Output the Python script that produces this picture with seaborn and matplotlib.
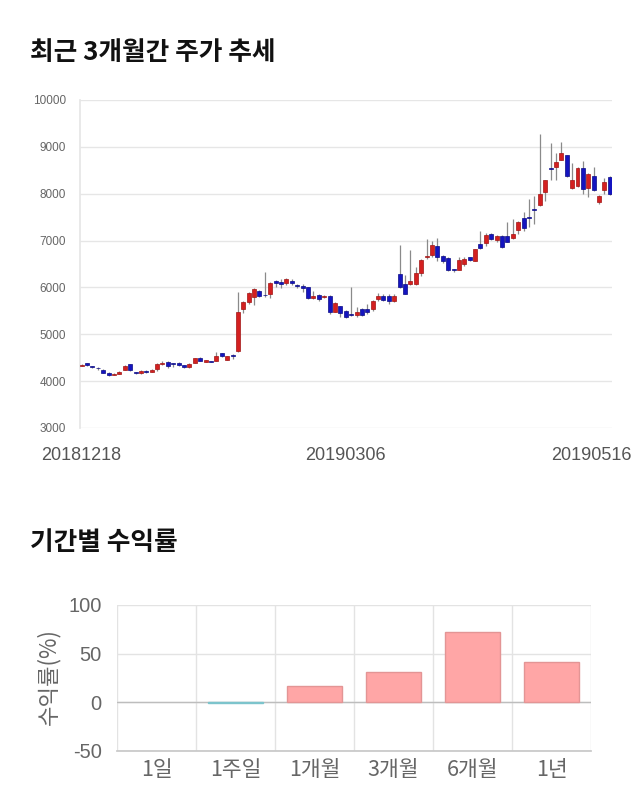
import numpy as np
import pandas as pd
import matplotlib
matplotlib.use("Agg")
import matplotlib.pyplot as plt
import matplotlib.transforms as mtransforms
import seaborn as sns

# ---- daily candles (20181218 .. 20190516) ----
opens = [4330, 4380, 4310, 4280, 4240, 4180, 4140, 4160, 4240, 4360,
         4180, 4170, 4210, 4200, 4250, 4370, 4410, 4370, 4390, 4340,
         4300, 4390, 4500, 4410, 4420, 4440, 4590, 4460, 4550,
         4650, 5550, 5690, 5790, 5930, 5840, 5860, 6130, 6110, 6090,
         6140, 6060, 6040, 6000, 5780, 5830, 5790, 5820, 5480, 5600,
         5500, 5430, 5420, 5530, 5530, 5530, 5750, 5820, 5820, 5720,
         6280,
         6080, 6070, 6080, 6300, 6640, 6690, 6880, 6670, 6620, 6390,
         6380, 6500, 6640, 6570, 6920, 6940, 7150, 7020, 7090, 7100,
         7060, 7220, 7490, 7510, 7670, 7750, 8040, 8550, 8560, 8730,
         8820, 8120, 8170, 8540, 8130, 8380, 7830, 8070, 8350]
highs = [4360, 4390, 4330, 4300, 4250, 4190, 4170, 4210, 4340, 4370,
         4190, 4230, 4240, 4250, 4380, 4420, 4430, 4380, 4400, 4350,
         4380, 4500, 4510, 4460, 4430, 4620, 4600, 4540, 4580,
         5910, 5700, 5900, 5990, 5950, 6330, 6120, 6150, 6170, 6200,
         6180, 6080, 6080, 6010, 5920, 5850, 5830, 5830, 5680, 5610,
         5510, 6010, 5580, 5560, 5640, 5730, 5890, 5850, 5850, 5850,
         6900,
         6260, 6790, 6440, 6600, 7040, 7000, 7060, 6700, 6640, 6400,
         6650, 6640, 6660, 6830, 7210, 7160, 7170, 7110, 7110, 7400,
         7450, 7420, 7620, 7880, 7950, 9280, 8300, 9085, 8870, 9100,
         8830, 8650, 8560, 8700, 8440, 8560, 7970, 8330, 8380]
lows = [4320, 4330, 4280, 4240, 4170, 4110, 4130, 4150, 4230, 4220,
        4160, 4160, 4170, 4190, 4220, 4350, 4290, 4310, 4330, 4290,
        4290, 4380, 4430, 4400, 4400, 4430, 4520, 4450, 4480,
        4630, 5460, 5650, 5630, 5800, 5800, 5780, 6000, 5990, 6060,
        6050, 5980, 5900, 5760, 5760, 5720, 5780, 5440, 5470, 5370,
        5350, 5400, 5360, 5380, 5440, 5500, 5720, 5700, 5650, 5680,
        5990,
        5850, 6050, 6060, 6250, 6600, 6660, 6560, 6520, 6340, 6330,
        6370, 6460, 6560, 6560, 6820, 6880, 7020, 6980, 6840, 6960,
        7040, 7130, 7200, 7300, 7360, 7740, 7850, 8300, 8290, 8720,
        8360, 8110, 8150, 7990, 7930, 8050, 7780, 8000, 7980]
closes = [4350, 4340, 4300, 4270, 4180, 4130, 4160, 4190, 4320, 4230,
          4170, 4210, 4200, 4230, 4360, 4380, 4320, 4360, 4340, 4300,
          4370, 4490, 4440, 4450, 4410, 4540, 4530, 4530, 4540,
          5480, 5690, 5890, 5960, 5820, 5830, 6100, 6090, 6070, 6180,
          6090, 6030, 5990, 5770, 5820, 5750, 5810, 5480, 5660, 5450,
          5370, 5420, 5480, 5420, 5470, 5720, 5820, 5740, 5710, 5820,
          6000,
          5870, 6130, 6300, 6580, 6670, 6900, 6640, 6570, 6380, 6380,
          6580, 6600, 6580, 6810, 6840, 7110, 7040, 7090, 6860, 6970,
          7150, 7400, 7260, 7490, 7660, 8000, 8290, 8530, 8680, 8860,
          8370, 8300, 8540, 8090, 8420, 8070, 7950, 8240, 7990]
date_ticks = [0, 49, 98]
date_labels = ["20181218", "20190306", "20190516"]
price_ticks = [3000, 4000, 5000, 6000, 7000, 8000, 9000, 10000]

# ---- period returns ----
periods = ["1일", "1주일", "1개월", "3개월", "6개월", "1년"]
returns = [0.0, -0.4, 16.4, 31.5, 72.0, 41.2]
return_ticks = [-50, 0, 50, 100]

sns.set_theme(style="white")
plt.rcParams['font.family'] = ['Liberation Sans', 'Noto Sans CJK KR']
KFONT = ['Noto Sans CJK KR', 'Liberation Sans']

fig = plt.figure(figsize=(6.4, 8.1), dpi=100)
W, H = 640.0, 810.0

def rect(l, t, r, b):
    return [l / W, 1 - b / H, (r - l) / W, (b - t) / H]

# ---------- top: candlestick chart ----------
ax1 = fig.add_axes(rect(80, 100, 612, 428))
o = np.array(opens, dtype=float)
c = np.array(closes, dtype=float)
idx = np.arange(len(o))
up = c >= o
body_col = np.where(up, '#d42020', '#1414c0')
edge_col = np.where(up, '#a01414', '#0a0a85')
ax1.vlines(idx, lows, highs, color='#8a8a8a', linewidth=0.9, zorder=2)
ax1.bar(idx, np.maximum(np.abs(c - o), 18), bottom=np.minimum(o, c),
        width=0.74, color=body_col, edgecolor=edge_col, linewidth=0.5, zorder=3)
ax1.set_xlim(-0.3, 98.4)
ax1.set_ylim(3000, 10000)
ax1.set_yticks(price_ticks)
ax1.set_yticklabels([str(t) for t in price_ticks])
ax1.set_xticks(date_ticks)
ax1.set_xticklabels(date_labels)
ax1.grid(axis='y', color='#e6e6e6', linewidth=1)
for s in ['top', 'right', 'bottom']:
    ax1.spines[s].set_visible(False)
ax1.spines['left'].set_color('#e6e6e6')
ax1.tick_params(axis='y', length=8, color='#e6e6e6', labelsize=8.5,
                labelcolor='#666666', pad=2)
ax1.tick_params(axis='x', length=0, labelsize=13, labelcolor='#555555', pad=14)
last = ax1.get_xticklabels()[-1]
last.set_transform(last.get_transform() +
                   mtransforms.ScaledTranslation(-18 / 100, 0, fig.dpi_scale_trans))

# ---------- bottom: returns bar chart ----------
ax2 = fig.add_axes(rect(117, 605, 591, 751))
df = pd.DataFrame({'period': periods, 'ret': returns})
pal = {p: ('#ffa6a6' if r >= 0 else '#8fd0d6') for p, r in zip(periods, returns)}
sns.barplot(data=df, x='period', y='ret', hue='period', palette=pal,
            legend=False, width=0.69, ax=ax2, zorder=3, saturation=1)
for patch, r in zip(ax2.patches, returns):
    if r == 0:
        patch.set_linewidth(0)
        continue
    patch.set_edgecolor('#e39595' if r > 0 else '#7cc4cc')
    patch.set_linewidth(1.0)
ax2.set_xlim(-0.5, 5.5)
ax2.set_ylim(-50, 100)
ax2.set_yticks(return_ticks)
ax2.set_yticklabels([str(t) for t in return_ticks])
ax2.set_xticks(np.arange(-0.5, 6.0, 1.0), minor=True)
ax2.grid(axis='y', color='#e3e3e3', linewidth=1, zorder=0)
ax2.grid(axis='x', which='minor', color='#e3e3e3', linewidth=1, zorder=0)
ax2.grid(axis='x', which='major', visible=False)
ax2.axhline(0, color='#bdbdbd', linewidth=1, zorder=2)
for s in ['top', 'right', 'left']:
    ax2.spines[s].set_visible(False)
ax2.spines['bottom'].set_color('#c8c8c8')
ax2.tick_params(axis='y', length=10, color='#e3e3e3', labelsize=14.5,
                labelcolor='#666666', pad=1)
ax2.tick_params(axis='x', which='major', length=0, labelsize=15.5,
                labelcolor='#666666', pad=6)
ax2.tick_params(axis='x', which='minor', length=9, color='#e3e3e3')
for lab in ax2.get_xticklabels():
    lab.set_fontfamily(KFONT)
ax2.set_xlabel('')
ax2.set_ylabel('')
fig.text(48 / W, 1 - 677 / H, '수익률(%)', rotation=90, ha='center', va='center',
         fontsize=16, color='#666666', family=KFONT)

# ---------- titles ----------
fig.text(30 / W, 1 - 52 / H, '최근 3개월간 주가 추세', ha='left', va='center',
         fontsize=18.5, fontweight='bold', color='#111111', family=KFONT)
fig.text(30 / W, 1 - 543 / H, '기간별 수익률', ha='left', va='center',
         fontsize=18.5, fontweight='bold', color='#111111', family=KFONT)

fig.savefig('out.png', dpi=100, facecolor='white')
